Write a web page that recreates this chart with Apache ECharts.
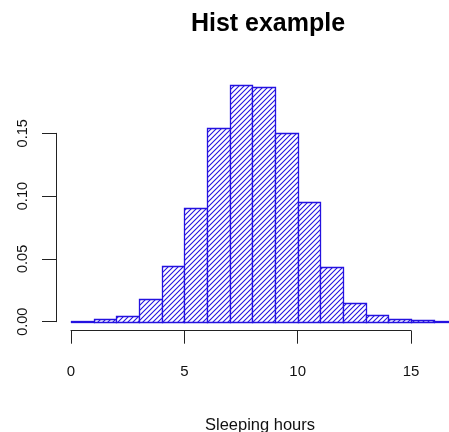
<!DOCTYPE html>
<html>
<head>
<meta charset="utf-8">
<script src="https://cdn.jsdelivr.net/npm/echarts@6/dist/echarts.min.js"></script>
<style>html,body{margin:0;padding:0;background:#fff}#c{width:449px;height:432px}</style>
</head>
<body>
<div id="c"></div>
<script>
// Data
const binStarts = [0,1,2,3,4,5,6,7,8,9,10,11,12,13,14,15,16];
const binEnds   = [1,2,3,4,5,6,7,8,9,10,11,12,13,14,15,16,17];
const density   = [0.0008,0.002,0.0045,0.0183,0.0446,0.0908,0.154,0.1888,0.1867,0.150,0.0954,0.0438,0.0151,0.0053,0.0019,0.001,0.0005];
const xTicks = [0,5,10,15];
const yTickLabels = ['0.00','0.05','0.10','0.15'];
const titleText = 'Hist example';
const xLabel = 'Sleeping hours';

const BLUE = '#2412e0';
const FONT = '"Liberation Sans", Arial, Helvetica, sans-serif';

// hatch pattern
function hatch() {
  const s = 5;
  const c = document.createElement('canvas');
  c.width = s; c.height = s;
  const g = c.getContext('2d');
  g.fillStyle = '#fff'; g.fillRect(0,0,s,s);
  g.strokeStyle = BLUE; g.lineWidth = 1.1;
  g.beginPath();
  g.moveTo(-1, s+1); g.lineTo(s+1, -1);
  g.moveTo(-1, 1); g.lineTo(1, -1);
  g.moveTo(s-1, s+1); g.lineTo(s+1, s-1);
  g.stroke();
  return c;
}
const pattern = { image: hatch(), repeat: 'repeat' };

const data = binStarts.map((s, i) => [s, binEnds[i], density[i]]);

const pxPerUnitX = 340 / 15;
const chart = echarts.init(document.getElementById('c'), null, {renderer: 'canvas'});
chart.setOption({
  animation: false,
  backgroundColor: '#fff',
  title: {
    text: titleText, left: 263, top: 7, textAlign: 'center',
    textStyle: { fontFamily: FONT, fontWeight: 'bold', fontSize: 25, color: '#000' }
  },
  grid: [
    { left: 71, top: 70.6, width: 378, height: 251.1, outerBoundsMode: 'none', containLabel: false },
    { left: 71, top: 133.3, width: 378, height: 188.4, outerBoundsMode: 'none', containLabel: false },
    { left: 71, top: 70.6, width: 340, height: 251.1, outerBoundsMode: 'none', containLabel: false }
  ],
  xAxis: [
    { gridIndex: 0, type: 'value', min: 0, max: 378 / pxPerUnitX,
      axisLine: {show: false}, axisTick: {show: false}, axisLabel: {show: false}, splitLine: {show: false},
      name: xLabel, nameLocation: 'middle', nameGap: 95,
      nameTextStyle: { fontFamily: FONT, fontSize: 16.5, color: '#111' } },
    { gridIndex: 1, type: 'value', show: false, min: 0, max: 1 },
    { gridIndex: 2, type: 'value', min: 0, max: 15, interval: 5, offset: 9,
      axisLine: { onZero: false, lineStyle: { color: '#222', width: 1 } },
      axisTick: { length: 13, lineStyle: { color: '#222' } },
      axisLabel: { margin: 34, fontFamily: FONT, fontSize: 15, color: '#111',
        formatter: v => xTicks.includes(v) ? String(v) : '' },
      splitLine: { show: false } }
  ],
  yAxis: [
    { gridIndex: 0, type: 'value', min: 0, max: 0.2, show: false },
    { gridIndex: 1, type: 'value', min: 0, max: 0.15, interval: 0.05, offset: 15,
      axisLine: { show: true, onZero: false, lineStyle: { color: '#222', width: 1 } },
      axisTick: { show: true, length: 14, lineStyle: { color: '#222' } },
      axisLabel: { rotate: 90, margin: 26, fontFamily: FONT, fontSize: 14.5, color: '#111',
        formatter: v => yTickLabels[Math.round(v / 0.05)] || '' },
      splitLine: { show: false } },
    { gridIndex: 2, type: 'value', show: false, min: 0, max: 1 }
  ],
  series: [{
    type: 'custom',
    xAxisIndex: 0, yAxisIndex: 0,
    clip: false,
    data: data,
    renderItem: function (params, api) {
      const p0 = api.coord([api.value(0), api.value(2)]);
      const p1 = api.coord([api.value(1), 0]);
      const x = Math.round(p0[0]) + 0.5, y = Math.round(p0[1]) + 0.5;
      const x2 = Math.round(p1[0]) + 0.5, y2 = Math.round(p1[1]) + 0.5;
      return {
        type: 'rect',
        shape: { x: x, y: y, width: x2 - x, height: Math.max(y2 - y, 0.01) },
        style: { fill: pattern, stroke: BLUE, lineWidth: 1.3 }
      };
    }
  }]
});
</script>
</body>
</html>
